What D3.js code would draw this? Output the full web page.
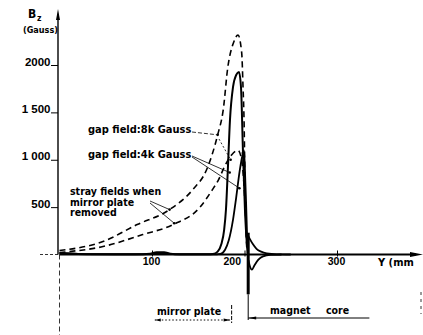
<!DOCTYPE html>
<html><head><meta charset="utf-8">
<script src="https://cdn.jsdelivr.net/npm/d3@7"></script>
<style>
body{margin:0;background:#fff}
svg{display:block;font-family:"DejaVu Sans Condensed","DejaVu Sans",sans-serif;font-stretch:condensed;font-weight:bold;fill:#000}
</style></head><body>
<svg id="c" width="423" height="335"></svg>
<script>
// ---- data ----
const xTicks = [100, 200, 300];
const xTickLabels = ["100", "200", "300"];
const yTicks = [500, 1000, 1500, 2000];
const yTickLabels = ["500", "1 000", "1 500", "2000"];
// stray fields, mirror plate removed (dashed)
const stray8k = [[0,42],[47,137],[84,316],[119,474],[144,684],[159,895],[171,1263],[177,1526],[182,1979],[188,2232],[193,2316],[197,2126],[198.4,1768],[199.5,1421],[200.5,789],[201.6,263],[202.7,50],[204,0]];
const stray4k = [[0,21],[47,84],[90,210],[123,316],[152,500],[165,680],[172,790],[178,920],[186,1050],[193,1100],[196.5,1020],[199,800],[201,450],[202.7,105],[204,0]];
// gap fields with mirror plate (solid)
const gap8k = [[0,15],[10,14],[20,6],[40,3],[90,3],[98,8],[105,25],[113,25],[120,8],[130,2],[160,2],[166,5],[171,30],[175,110],[178,260],[180,480],[182,900],[184.3,1421],[187.6,1768],[191,1895],[194,1926],[196.2,1768],[198.4,1070],[200.5,470],[202.7,100],[204,0]];
const gap4k = [[0,8],[20,4],[60,2],[100,3],[108,14],[116,6],[130,1],[170,2],[174,6],[179,50],[183,150],[187.6,368],[191,600],[195,895],[198.4,1070],[199.5,1100],[200.8,800],[201.6,580],[203,150],[204,0]];
// magnet core region
const coreUpper = [[204.3,190],[206,160],[209,110],[213,60],[218,30],[224,12],[235,2],[250,0]];
const coreLower = [[204.3,-60],[206,-130],[208,-160],[211,-110],[215,-55],[220,-20],[228,-3],[240,0]];
const coreSpike = [[204,230],[204,-420]];
const mirrorPlate = [103, 185];
const magnetCore = [204, 335];

// ---- scales ----
const svg = d3.select("#c");
const x = d3.scaleLinear().domain([0, 300]).range([59.5, 337]);
const y = d3.scaleLinear().domain([0, 2000]).range([254.5, 65]);
const line = d3.line().x(d => x(d[0])).y(d => y(d[1])).curve(d3.curveMonotoneX);
const x0 = x(0), y0 = y(0);

// ---- axes ----
svg.append("line").attr("x1", 40).attr("x2", x0).attr("y1", y0).attr("y2", y0)
  .attr("stroke", "#000").attr("stroke-width", 0.8).attr("stroke-dasharray", "3,2");
svg.append("line").attr("x1", x0).attr("x2", x0).attr("y1", y0).attr("y2", 335)
  .attr("stroke", "#000").attr("stroke-width", 0.8).attr("stroke-dasharray", "5,3");

const yAxis = svg.append("g").attr("transform", `translate(${x0 - 1.5},0)`)
  .call(d3.axisLeft(y).tickValues(yTicks).tickSize(7).tickFormat((d, i) => yTickLabels[i]));
yAxis.select(".domain").attr("d", `M0,${y0}V14`).attr("stroke-width", 1.4);
yAxis.selectAll(".tick line").attr("stroke-width", 1);
yAxis.selectAll(".tick text").attr("dy", "0").attr("x", -7.5)
  .style("font-size", "11.5px").style("font-family", "inherit").style("font-weight", "bold").attr("fill", "#000");
svg.append("path").attr("d", `M${x0 - 1.5},9 L${x0 - 3.5},20 L${x0 + 0.5},20 Z`).attr("fill", "#000");

const xAxis = svg.append("g").attr("transform", `translate(0,${y0})`)
  .call(d3.axisBottom(x).tickValues(xTicks).tickSize(3).tickFormat((d, i) => xTickLabels[i]));
xAxis.select(".domain").attr("d", `M${x0},0H416`).attr("stroke-width", 1.8);
xAxis.selectAll(".tick line").attr("y1", -4).attr("y2", 2).attr("stroke-width", 1);
xAxis.selectAll(".tick text").attr("y", 3.5).attr("dy", "0.71em")
  .style("font-size", "10.5px").style("font-family", "inherit").style("font-weight", "bold").attr("fill", "#000")
  .attr("text-anchor", d => d === 200 ? "end" : "middle").attr("x", d => d === 200 ? -4 : -1);
svg.append("path").attr("d", `M423,${y0} L410,${y0 - 2.5} L410,${y0 + 2.5} Z`).attr("fill", "#000");

// axis titles
svg.append("text").attr("x", 28).attr("y", 18).style("font-size", "12px").text("B");
svg.append("text").attr("x", 37).attr("y", 21).style("font-size", "8.5px").text("z");
svg.append("text").attr("x", 23).attr("y", 33).style("font-size", "9px").text("(Gauss)");
svg.append("text").attr("x", 378).attr("y", 266).style("font-size", "11px").text("Y (mm");

// ---- curves ----
const dash = "6,4";
svg.append("path").datum(stray8k).attr("d", line).attr("fill", "none").attr("stroke", "#000").attr("stroke-width", 1.6).attr("stroke-dasharray", dash);
svg.append("path").datum(stray4k).attr("d", line).attr("fill", "none").attr("stroke", "#000").attr("stroke-width", 1.6).attr("stroke-dasharray", dash);
svg.append("path").datum(gap8k).attr("d", line).attr("fill", "none").attr("stroke", "#000").attr("stroke-width", 2);
svg.append("path").datum(gap4k).attr("d", line).attr("fill", "none").attr("stroke", "#000").attr("stroke-width", 1.8);
svg.append("path").datum(coreUpper).attr("d", line).attr("fill", "none").attr("stroke", "#000").attr("stroke-width", 1.8);
svg.append("path").datum(coreLower).attr("d", line).attr("fill", "none").attr("stroke", "#000").attr("stroke-width", 1.8);
svg.append("path").datum(coreSpike).attr("d", d3.line().x(d => x(d[0])).y(d => y(d[1]))).attr("fill", "none").attr("stroke", "#000").attr("stroke-width", 3);

// ---- annotations ----
const ann = svg.append("g").style("font-size", "11px");
ann.append("text").attr("x", 88).attr("y", 133).text("gap field:8k Gauss");
ann.append("text").attr("x", 88).attr("y", 158).text("gap field:4k Gauss");
const sf = ann.append("text").attr("x", 70).attr("y", 195).style("font-size", "10.5px");
["stray fields when", "mirror plate", "removed"].forEach((t, i) =>
  sf.append("tspan").attr("x", 70).attr("dy", i ? 10.5 : 0).text(t));

function leader(x1, y1, p, dashArr) {
  svg.append("line").attr("x1", x1).attr("y1", y1).attr("x2", x(p[0])).attr("y2", y(p[1]))
    .attr("stroke", "#000").attr("stroke-width", 0.8).attr("stroke-dasharray", dashArr || null);
  svg.append("circle").attr("cx", x(p[0])).attr("cy", y(p[1])).attr("r", 1.3).attr("fill", "#000");
}
leader(192, 132, [171, 1263], "4,2");
leader(219, 139, [185, 1000], "2,2");
leader(192, 156, [184, 865]);
leader(192, 157, [194.5, 700]);
leader(150, 201, [119, 474]);
leader(150, 203, [124, 330]);
svg.append("circle").attr("cx", x(198.4)).attr("cy", y(1070)).attr("r", 1.5).attr("fill", "#000");

// mirror plate / magnet core bars
const mpY = 320;
svg.append("line").attr("x1", x(mirrorPlate[0])).attr("x2", x(mirrorPlate[1])).attr("y1", mpY).attr("y2", mpY)
  .attr("stroke", "#000").attr("stroke-width", 1).attr("stroke-dasharray", "1.5,2");
svg.append("path").attr("d", `M${x(mirrorPlate[0])},${mpY} l6,-1.5 v3 Z M${x(mirrorPlate[1])},${mpY} l-7,-1.5 v3 Z`).attr("fill", "#000");
svg.append("line").attr("x1", x(mirrorPlate[1]) + 1).attr("x2", x(mirrorPlate[1]) + 1).attr("y1", 305).attr("y2", 323)
  .attr("stroke", "#000").attr("stroke-width", 1).attr("stroke-dasharray", "4,1.5");
svg.append("text").attr("x", 157).attr("y", 315).style("font-size", "10.5px").text("mirror plate");

const mcY = 318;
svg.append("line").attr("x1", x(magnetCore[0])).attr("x2", x(magnetCore[0])).attr("y1", y(-420)).attr("y2", mcY + 2)
  .attr("stroke", "#000").attr("stroke-width", 1);
svg.append("line").attr("x1", x(magnetCore[0])).attr("x2", x(magnetCore[1])).attr("y1", mcY).attr("y2", mcY)
  .attr("stroke", "#000").attr("stroke-width", 1);
svg.append("path").attr("d", `M${x(magnetCore[0])},${mcY} l8,-1.5 v3 Z`).attr("fill", "#000");
svg.append("text").attr("x", 270).attr("y", 314).style("font-size", "10.5px").attr("word-spacing", "12px").text("magnet core");
svg.append("line").attr("x1", 421).attr("x2", 421).attr("y1", 292).attr("y2", 314)
  .attr("stroke", "#000").attr("stroke-width", 0.8).attr("stroke-dasharray", "3,4");
</script>
</body></html>
